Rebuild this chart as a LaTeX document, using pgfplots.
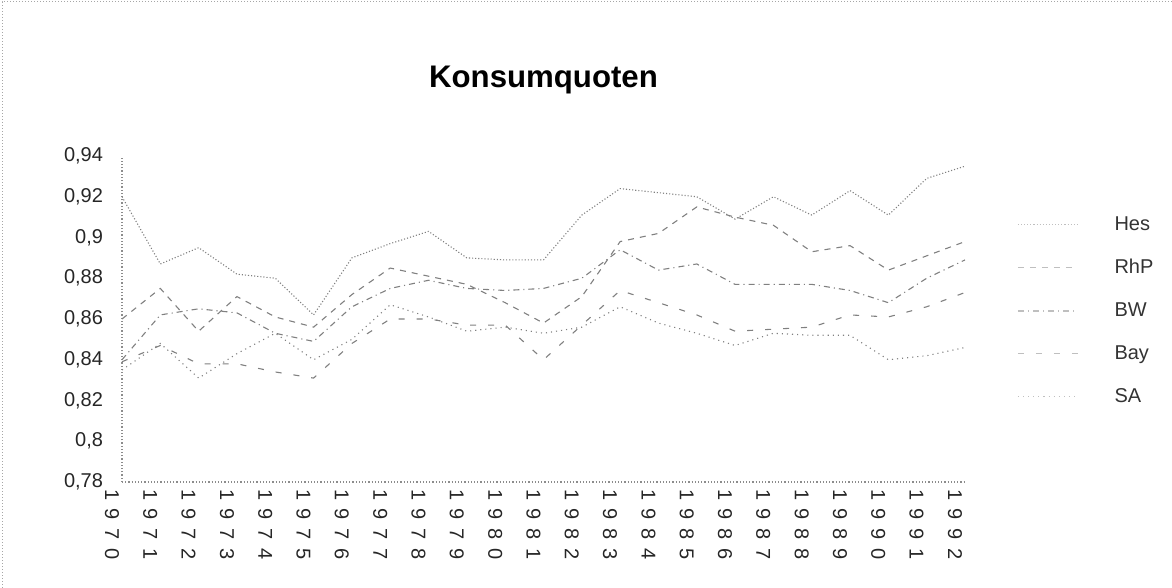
\documentclass[border=0pt]{standalone}
\usepackage{pgfplots}
\pgfplotsset{compat=1.18}
\usepackage{fontspec}
\setmainfont{Liberation Sans}
\newcommand\yr[4]{#1\kern4.3pt#2\kern4.3pt#3\kern4.3pt#4}
\begin{document}
\begin{tikzpicture}
\path[use as bounding box] (0,0) rectangle (586pt,294pt);
\draw[black!35, densely dotted, line width=0.5pt] (1pt,0pt) -- (1pt,293pt) -- (586pt,293pt);
\begin{axis}[
  at={(61pt,53pt)}, anchor=south west,
  scale only axis, width=421.5pt, height=163pt,
  xmin=1970, xmax=1992, ymin=0.78, ymax=0.94,
  axis x line*=bottom, axis y line*=left,
  axis line style={black!45, densely dotted, line width=0.6pt, -},
  major tick length=0pt,
  xtick={1970,...,1992},
  xticklabels={\yr1970,\yr1971,\yr1972,\yr1973,\yr1974,\yr1975,\yr1976,\yr1977,\yr1978,\yr1979,\yr1980,\yr1981,\yr1982,\yr1983,\yr1984,\yr1985,\yr1986,\yr1987,\yr1988,\yr1989,\yr1990,\yr1991,\yr1992},
  ytick={0.78,0.80,0.82,0.84,0.86,0.88,0.90,0.92,0.94},
  yticklabels={{0,78},{0,8},{0,82},{0,84},{0,86},{0,88},{0,9},{0,92},{0,94}},
  ticklabel style={font=\fontsize{10}{12}\selectfont, text=black!85},
  yticklabel style={xshift=-6pt},
  xticklabel style={rotate=-90, anchor=west, yshift=-5pt},
  title={\textbf{Konsumquoten}},
  title style={at={(0.5,1)}, anchor=center, yshift=32pt, font=\fontsize{15.6}{17}\selectfont},
  legend style={at={(1,1)}, anchor=north west, xshift=26pt, yshift=-28pt,
    draw=none, fill=none, font=\fontsize{10}{12}\selectfont, text=black!80,
    row sep=9pt, inner sep=0pt},
  legend cell align=left,
  legend image code/.code={\draw[#1, black!25] (0pt,0pt) -- (30pt,0pt); \path (46pt,0pt);},
]
\addplot[black!50, line width=0.55pt, densely dotted] coordinates {
(1970,0.920) (1971,0.887) (1972,0.895) (1973,0.882) (1974,0.880) (1975,0.862)
(1976,0.890) (1977,0.897) (1978,0.903) (1979,0.890) (1980,0.889) (1981,0.889)
(1982,0.911) (1983,0.924) (1984,0.922) (1985,0.920) (1986,0.909) (1987,0.920)
(1988,0.911) (1989,0.923) (1990,0.911) (1991,0.929) (1992,0.935)};
\addlegendentry{Hes}
\addplot[black!50, line width=0.55pt, dashed] coordinates {
(1970,0.860) (1971,0.875) (1972,0.854) (1973,0.871) (1974,0.861) (1975,0.856)
(1976,0.872) (1977,0.885) (1978,0.881) (1979,0.877) (1980,0.868) (1981,0.858)
(1982,0.871) (1983,0.898) (1984,0.902) (1985,0.915) (1986,0.910) (1987,0.906)
(1988,0.893) (1989,0.896) (1990,0.884) (1991,0.891) (1992,0.898)};
\addlegendentry{RhP}
\addplot[black!50, line width=0.55pt, dash dot] coordinates {
(1970,0.840) (1971,0.862) (1972,0.865) (1973,0.863) (1974,0.853) (1975,0.849)
(1976,0.866) (1977,0.875) (1978,0.879) (1979,0.875) (1980,0.874) (1981,0.875)
(1982,0.880) (1983,0.894) (1984,0.884) (1985,0.887) (1986,0.877) (1987,0.877)
(1988,0.877) (1989,0.874) (1990,0.868) (1991,0.880) (1992,0.889)};
\addlegendentry{BW}
\addplot[black!50, line width=0.55pt, loosely dashed] coordinates {
(1970,0.839) (1971,0.847) (1972,0.838) (1973,0.838) (1974,0.834) (1975,0.831)
(1976,0.848) (1977,0.860) (1978,0.860) (1979,0.857) (1980,0.857) (1981,0.840)
(1982,0.857) (1983,0.874) (1984,0.868) (1985,0.862) (1986,0.854) (1987,0.855)
(1988,0.856) (1989,0.862) (1990,0.861) (1991,0.866) (1992,0.873)};
\addlegendentry{Bay}
\addplot[black!50, line width=0.55pt, dotted] coordinates {
(1970,0.835) (1971,0.848) (1972,0.831) (1973,0.843) (1974,0.853) (1975,0.840)
(1976,0.850) (1977,0.867) (1978,0.861) (1979,0.854) (1980,0.856) (1981,0.853)
(1982,0.856) (1983,0.866) (1984,0.858) (1985,0.853) (1986,0.847) (1987,0.853)
(1988,0.852) (1989,0.852) (1990,0.840) (1991,0.842) (1992,0.846)};
\addlegendentry{SA}
\end{axis}
\end{tikzpicture}
\end{document}
